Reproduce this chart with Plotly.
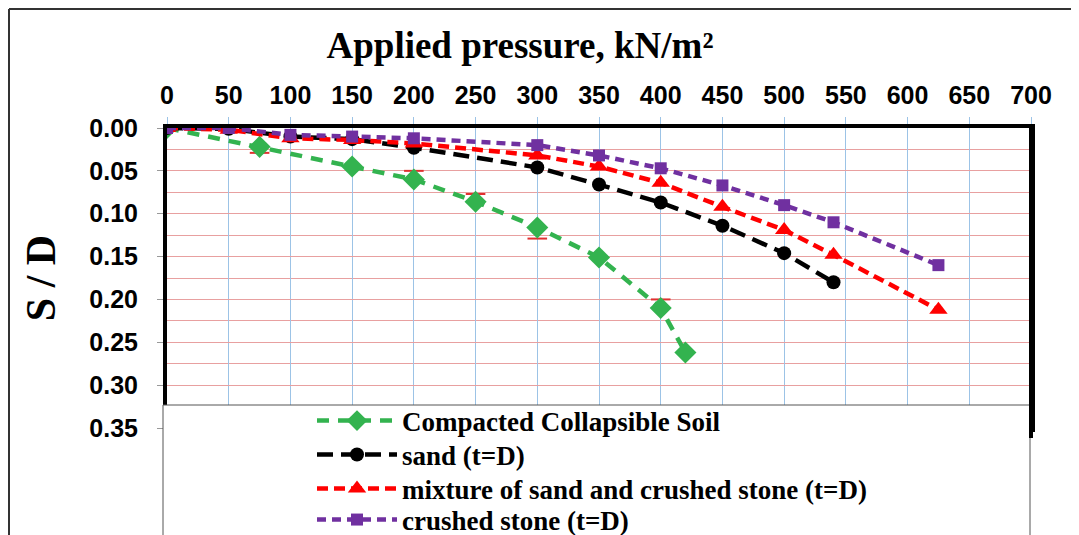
import plotly.graph_objects as go

# ---- data ----
pressure_soil = [0, 75, 150, 200, 250, 300, 350, 400, 420]
sd_soil = [0.0, 0.022, 0.045, 0.060, 0.086, 0.116, 0.151, 0.210, 0.262]

pressure_sand = [0, 50, 100, 150, 200, 300, 350, 400, 450, 500, 540]
sd_sand = [0.0, 0.001, 0.010, 0.013, 0.023, 0.046, 0.066, 0.087, 0.114, 0.146, 0.180]

pressure_mix = [0, 50, 100, 150, 200, 300, 350, 400, 450, 500, 540, 625]
sd_mix = [0.0, 0.002, 0.012, 0.014, 0.018, 0.032, 0.045, 0.064, 0.092, 0.119, 0.148, 0.212]

pressure_stone = [0, 50, 100, 150, 200, 300, 350, 400, 450, 500, 540, 625]
sd_stone = [0.0, 0.0, 0.008, 0.010, 0.012, 0.020, 0.032, 0.047, 0.067, 0.090, 0.110, 0.160]

# small red stray marks next to the soil curve
pressure_marks = [75, 200, 250, 300, 400]
sd_marks = [0.029, 0.050, 0.077, 0.129, 0.200]

x_ticks = list(range(0, 701, 50))
y_ticks = [0.00, 0.05, 0.10, 0.15, 0.20, 0.25, 0.30, 0.35]

names = ["Compacted Collapsible Soil", "sand (t=D)",
         "mixture of sand and crushed stone (t=D)", "crushed stone (t=D)"]

# page body has an 8px margin, so the figure is laid out 8px smaller
OFF = 8
W, H = 1079 - OFF, 535 - OFF
ML = 167 - OFF
MR = W - (1031 - OFF)
MT = 128 - OFF
MB = H - (428 - OFF)
PW, PH = W - ML - MR, H - MT - MB


def px_x(px):
    return (px - OFF - ML) / PW


def px_y(py):
    return (H - MB - (py - OFF)) / PH


fig = go.Figure()

fig.add_trace(go.Scatter(
    x=pressure_marks, y=sd_marks, mode="markers", showlegend=False,
    marker=dict(symbol="line-ew", size=14, line=dict(color="#e03030", width=2)),
    hoverinfo="skip"))

series = [
    (pressure_soil, sd_soil, names[0], "#33b34f", "diamond", 17, "12px,9px"),
    (pressure_sand, sd_sand, names[1], "#000000", "circle", 14, "16px,8px"),
    (pressure_mix, sd_mix, names[2], "#ff0000", "triangle-up", 16, "11px,6px"),
    (pressure_stone, sd_stone, names[3], "#7030a0", "square", 12, "9px,6px"),
]
legend_ids = ["legend", "legend2", "legend3", "legend4"]
legend_rows = [421, 455, 489, 520]

for (xs, ys, nm, col, sym, sz, dash), lid in zip(series, legend_ids):
    fig.add_trace(go.Scatter(
        x=xs, y=ys, name=nm, mode="lines+markers", legend=lid,
        line=dict(color=col, width=4.5, dash=dash),
        marker=dict(symbol=sym, size=sz, color=col)))

tick_font = dict(family="Liberation Sans", size=25, color="black", weight="bold")
serif = "Liberation Serif"

legend_layout = {}
for lid, row in zip(legend_ids, legend_rows):
    legend_layout[lid] = dict(
        x=px_x(312), y=px_y(row), xanchor="left", yanchor="middle",
        bgcolor="rgba(0,0,0,0)", borderwidth=0, itemwidth=80,
        font=dict(family=serif, size=27, color="black", weight="bold"),
    )

fig.update_layout(
    width=W, height=H, autosize=False,
    margin=dict(l=ML, r=MR, t=MT, b=MB, autoexpand=False),
    paper_bgcolor="white", plot_bgcolor="white",
    title=dict(text="Applied pressure, kN/m²", x=px_x(520), xref="paper",
               xanchor="center", y=1 - (45 - OFF) / H, yref="container", yanchor="middle",
               font=dict(family=serif, size=37, color="black", weight="bold")),
    xaxis=dict(
        side="top", range=[0, 700], tickvals=x_ticks, ticktext=[str(v) for v in x_ticks],
        showgrid=True, gridcolor="#9cc3e6", gridwidth=1, zeroline=False,
        showline=True, linecolor="black", linewidth=4, mirror=True,
        ticks="outside", ticklen=7, tickcolor="#9cc3e6", tickfont=tick_font,
        ticklabelstandoff=3,
        automargin=False,
    ),
    yaxis=dict(
        range=[0.35, 0], tickvals=y_ticks, ticktext=[f"{v:.2f}" for v in y_ticks],
        showgrid=True, gridcolor="#e8a0a0", gridwidth=1, zeroline=False,
        minor=dict(dtick=0.025, tick0=0, showgrid=True, gridcolor="#e8a0a0", gridwidth=1),
        showline=True, linecolor="black", linewidth=4, mirror=True,
        ticks="outside", ticklen=6, tickcolor="#999999", tickfont=tick_font,
        ticklabelstandoff=14,
        title=dict(text="S / D", standoff=22,
                   font=dict(family=serif, size=42, color="black", weight="bold")),
        automargin=False,
    ),
    shapes=[
        # legend box
        dict(type="rect", xref="paper", yref="paper",
             x0=px_x(163), x1=px_x(1030), y0=px_y(545), y1=px_y(405),
             fillcolor="white", line=dict(color="#555555", width=1), layer="above"),
        # right plot border runs a little past the legend top
        dict(type="line", xref="paper", yref="paper",
             x0=px_x(1031), x1=px_x(1031), y0=px_y(438), y1=px_y(128),
             line=dict(color="black", width=4), layer="above"),
        # outer frame: top and left edges
        dict(type="line", xref="paper", yref="paper",
             x0=px_x(9), x1=px_x(1100), y0=px_y(9), y1=px_y(9),
             line=dict(color="#333333", width=2), layer="above"),
        dict(type="line", xref="paper", yref="paper",
             x0=px_x(9), x1=px_x(9), y0=px_y(545), y1=px_y(9),
             line=dict(color="#333333", width=2), layer="above"),
    ],
    showlegend=True,
    **legend_layout,
)

fig.write_html("out.html")
